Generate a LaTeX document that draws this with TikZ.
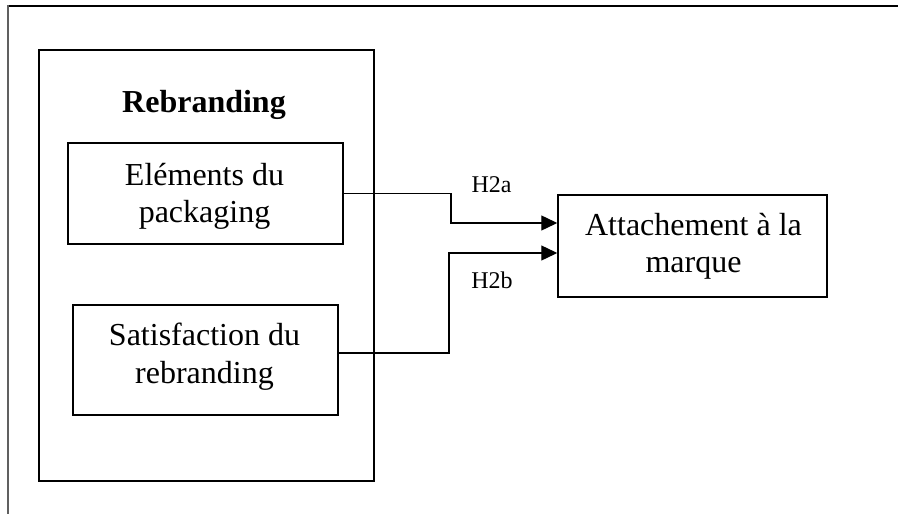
\documentclass[tikz,border=0pt]{standalone}
\usepackage{fontspec}
\setmainfont{Liberation Serif}
\usetikzlibrary{arrows.meta}

\tikzset{
  box/.style={draw=black, line width=1.5pt, inner sep=0pt},
  big/.style={font=\fontsize{32}{37}\selectfont, anchor=base, inner sep=0pt},
  hyp/.style={font=\fontsize{24}{28}\selectfont, anchor=base, inner sep=0pt},
  conn/.style={draw=black, line width=1.4pt, -{Triangle[length=16pt,width=15pt]}},
}

\begin{document}
\begin{tikzpicture}[x=1pt,y=-1pt]
  \useasboundingbox (0,0) rectangle (898,514);

  % frame edges (top and left only)
  \draw[black, line width=1.8pt] (7,6.3) -- (898,6.3);
  \draw[gray!75!black, line width=2pt] (7.5,5.4) -- (7.5,514);

  % group box
  \node[box, minimum width=335pt, minimum height=431pt] (group) at (206.5,265.5) {};
  \node[big, font=\fontsize{32}{37}\selectfont\bfseries] (grouptitle) at (204,112) {Rebranding};

  % inner boxes
  \node[box, minimum width=275pt, minimum height=101pt] (elem) at (205.5,193.5) {};
  \node[big] (elem1) at (204.5,185) {Eléments du};
  \node[big] (elem2) at (204.5,222) {packaging};

  \node[box, minimum width=265pt, minimum height=110pt] (sat) at (205.5,360) {};
  \node[big] (sat1) at (204.5,345) {Satisfaction du};
  \node[big] (sat2) at (204.5,383) {rebranding};

  \node[box, minimum width=269pt, minimum height=102pt] (attach) at (692.5,246) {};
  \node[big] (attach1) at (693.5,235) {Attachement à la};
  \node[big] (attach2) at (693.5,272) {marque};

  % connectors
  \coordinate (a1) at (451,193.5);
  \coordinate (a2) at (451,223);
  \draw[conn] (elem.east) -- (a1) -- (a2) -- (attach.west |- a2);

  \coordinate (b0) at (sat.east |- 0,353);
  \coordinate (b1) at (449,353);
  \coordinate (b2) at (449,253);
  \draw[conn] (b0) -- (b1) -- (b2) -- (attach.west |- b2);

  \node[hyp] (h2a) at (491.5,192) {H2a};
  \node[hyp] (h2b) at (492,288) {H2b};
\end{tikzpicture}
\end{document}
